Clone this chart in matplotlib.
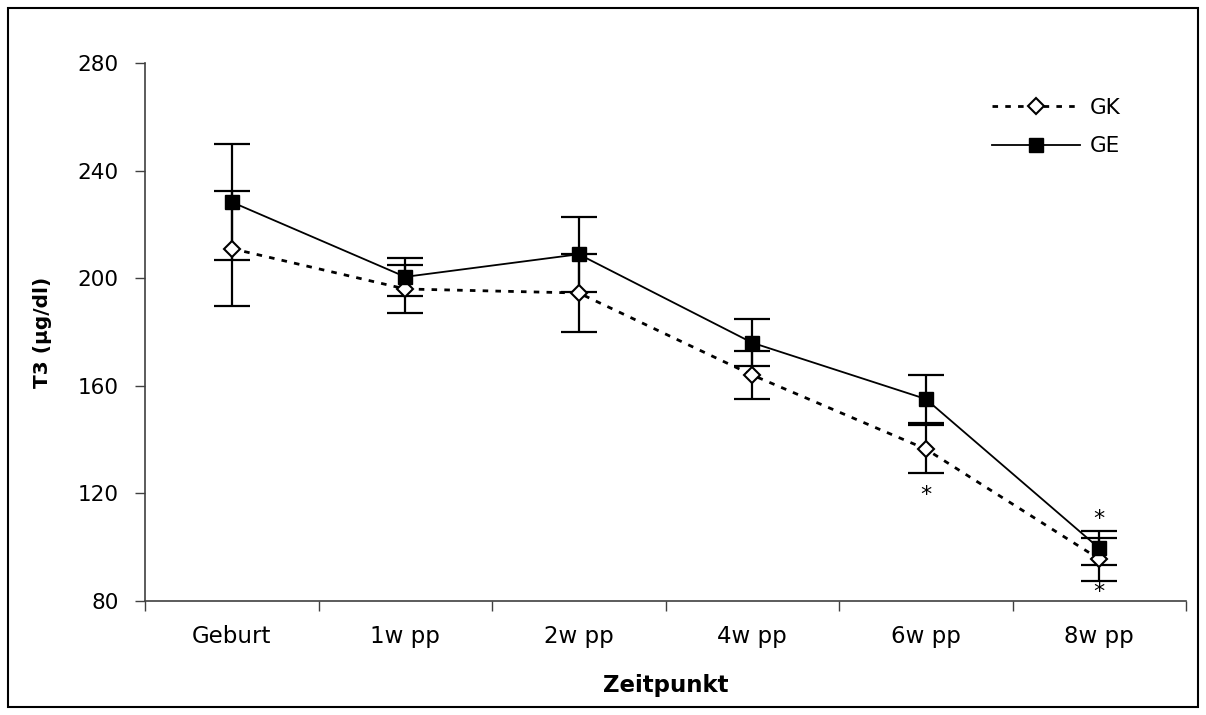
import matplotlib
matplotlib.use("Agg")
import matplotlib.pyplot as plt
from matplotlib.patches import Rectangle

plt.rcParams['font.family'] = ['DejaVu Sans']

categories = ["Geburt", "1w pp", "2w pp", "4w pp", "6w pp", "8w pp"]
gk_mean = [211.0, 196.0, 194.5, 164.0, 136.5, 95.6]
gk_err = [21.5, 9.0, 14.5, 8.8, 8.8, 8.0]
ge_mean = [228.3, 200.5, 208.9, 176.0, 155.1, 99.6]
ge_err = [21.5, 7.0, 14.0, 8.8, 8.9, 6.4]
# significance asterisks: (category index, y value)
sig_marks = [(4, 119.5), (5, 110.6), (5, 83.2)]
yticks = [80, 120, 160, 200, 240, 280]

fig = plt.figure(figsize=(12.06, 7.15), dpi=100)
fig.patches.append(Rectangle((8/1206, 8/715), 1190/1206, 699/715, transform=fig.transFigure,
                             fill=False, edgecolor='black', linewidth=1.5))
ax = fig.add_axes([145/1206, 1 - 601/715, 1041/1206, 538/715])

x = list(range(len(categories)))

ax.errorbar(x, gk_mean, yerr=gk_err, fmt='none', ecolor='black', elinewidth=1.6,
            capsize=13, capthick=1.6, zorder=2)
ax.errorbar(x, ge_mean, yerr=ge_err, fmt='none', ecolor='black', elinewidth=1.6,
            capsize=13, capthick=1.6, zorder=2)
ax.plot(x, gk_mean, color='black', linestyle=(0, (2.0, 2.6)), linewidth=2.0,
        marker='D', markersize=8, markerfacecolor='white', markeredgecolor='black',
        markeredgewidth=1.5, label='GK', zorder=3)
ax.plot(x, ge_mean, color='black', linestyle='-', linewidth=1.3,
        marker='s', markersize=10, markerfacecolor='black', markeredgecolor='black',
        label='GE', zorder=4)

for ci, yv in sig_marks:
    ax.text(ci, yv, '*', ha='center', va='center', fontsize=16, color='black')

ax.set_xlim(-0.5, len(categories) - 0.5)
ax.set_ylim(80, 280)
ax.set_yticks(yticks)
ax.set_yticklabels([str(v) for v in yticks])
ax.set_xticks(x)
ax.set_xticklabels(categories)
ax.set_xticks([i - 0.5 for i in range(len(categories) + 1)], minor=True)

ax.tick_params(axis='x', which='major', length=0, pad=17, labelsize=16.5)
ax.tick_params(axis='x', which='minor', length=7, width=1, color='#404040', direction='out')
ax.tick_params(axis='y', which='major', length=7, width=1, color='#404040', pad=12,
               labelsize=15.5, direction='out')

for s in ['top', 'right']:
    ax.spines[s].set_visible(False)
for s in ['left', 'bottom']:
    ax.spines[s].set_color('#404040')
    ax.spines[s].set_linewidth(1.2)

ax.set_ylabel('T3 (µg/dl)', fontsize=14.5, fontweight='bold')
ax.yaxis.set_label_coords((52 - 145) / 1041, 0.5)
ax.set_xlabel('Zeitpunkt', fontsize=16.5, fontweight='bold')
ax.xaxis.set_label_coords(0.5, (601 - 674) / 538)

leg = ax.legend(loc='center left', bbox_to_anchor=(992/1206, 1 - 127/715),
                bbox_transform=fig.transFigure, frameon=False, fontsize=15.5,
                handlelength=4.1, handletextpad=0.45, labelspacing=0.85,
                borderpad=0, borderaxespad=0, numpoints=1)

fig.savefig('out.png', dpi=100)
